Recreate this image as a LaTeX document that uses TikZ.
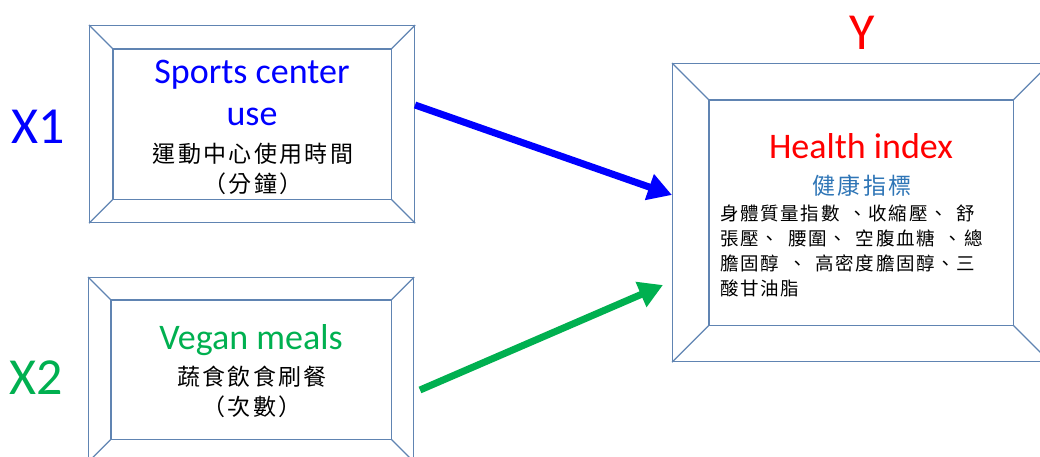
\documentclass[tikz,border=0pt]{standalone}
\usepackage{fontspec}
\setmainfont{Carlito}
\newfontfamily\cjk{Noto Sans CJK TC}
\newfontfamily\cjkls[LetterSpace=10]{Noto Sans CJK TC}
\newfontfamily\cjkss[LetterSpace=9]{Noto Sans CJK TC}
\usetikzlibrary{arrows.meta}
\definecolor{frame}{RGB}{96,132,178}
\definecolor{tblue}{RGB}{0,0,255}
\definecolor{tgreen}{RGB}{0,176,80}
\definecolor{tred}{RGB}{255,0,0}
\definecolor{lblue}{RGB}{46,117,182}
\tikzset{
  frameline/.style={draw=frame, line width=1.2pt},
  eng/.style={font=\fontsize{36}{40}\selectfont, anchor=base, inner sep=0pt},
  zh/.style={font=\cjkls\fontsize{23}{25}\selectfont, anchor=base, inner sep=0pt},
  zhs/.style={font=\cjkss\fontsize{18.5}{25}\selectfont, anchor=base west, inner sep=0pt},
  big/.style={font=\fontsize{52}{60}\selectfont, inner sep=0pt},
  arr/.style={line width=7pt, -{Triangle[length=24pt,width=26pt]}},
}
\newcommand\zhgap{\hspace{9pt}}
\newcommand\bevel[6]{% name, x1,y1,x2,y2, inset
  \node[draw=frame, line width=1.2pt, minimum width=#4pt-#2pt, minimum height=#5pt-#3pt, inner sep=0pt, anchor=north west] (#1) at (#2,#3) {};
  \draw[frameline] ([shift={(#6pt,-#6pt)}]#1.north west) rectangle ([shift={(-#6pt,#6pt)}]#1.south east);
  \draw[frameline] (#1.north west) -- ++(#6pt,-#6pt);
  \draw[frameline] (#1.north east) -- ++(-#6pt,-#6pt);
  \draw[frameline] (#1.south west) -- ++(#6pt,#6pt);
  \draw[frameline] (#1.south east) -- ++(-#6pt,#6pt);
}
\begin{document}
\begin{tikzpicture}[x=1pt,y=-1pt]
\useasboundingbox (0,0) rectangle (1040,457);
\clip (0,0) rectangle (1040,457);
\bevel{b1}{89}{25}{414}{222}{24}
\bevel{b2}{88}{277}{413}{461}{23}
\bevel{by}{672}{63}{1049}{361}{37}

\node[eng, text=tblue] (t1a) at (252,84) {Sports center};
\node[eng, text=tblue] (t1b) at (252,126) {use};
\node[zh] (t1c) at (253,163) {運動中心使用時間};
\node[zh] (t1d) at (253,193) {（分鐘）};

\node[eng, text=tgreen] (t2a) at (251,349) {Vegan meals};
\node[zh] (t2b) at (252,385) {蔬食飲食刷餐};
\node[zh] (t2c) at (252,415) {（次數）};

\node[eng, text=tred] (tya) at (861,159) {Health index};
\node[zh, text=lblue] (tyb) at (862,194) {健康指標};
\node[zhs] (tyc) at (720,220) {身體質量指數\zhgap{}、收縮壓、\zhgap{}舒};
\node[zhs] (tyd) at (720,245) {張壓、\zhgap{}腰圍、\zhgap{}空腹血糖\zhgap{}、總};
\node[zhs] (tye) at (720,270) {膽固醇\zhgap{}、\zhgap{}高密度膽固醇、三};
\node[zhs] (tyf) at (720,295) {酸甘油脂};

\node[big, text=tblue] (x1) at (38,127) {X1};
\node[big, text=tgreen] (x2) at (36,378) {X2};
\node[big, text=tred] (y) at (862,33) {Y};

\coordinate (a1s) at (415,105);
\coordinate (a1e) at (672,195);
\coordinate (a2s) at (420,390);
\coordinate (a2e) at (663,285);
\draw[arr, draw=tblue, fill=tblue] (a1s) -- (a1e);
\draw[arr, draw=tgreen, fill=tgreen] (a2s) -- (a2e);
\end{tikzpicture}
\end{document}
